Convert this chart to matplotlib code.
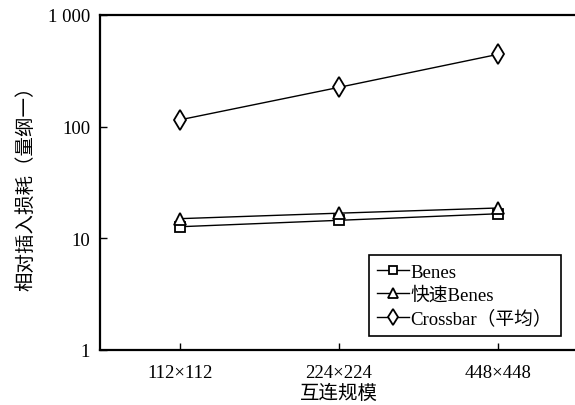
import matplotlib
matplotlib.use("Agg")
import matplotlib.pyplot as plt

categories = ["112×112", "224×224", "448×448"]
benes = [12.7, 14.5, 16.6]
fast_benes = [15.0, 16.8, 18.7]
crossbar = [115, 225, 445]
series_names = ["Benes", "快速Benes", "Crossbar（平均）"]
yticks = [1, 10, 100, 1000]
ytick_labels = ["1", "10", "100", "1 000"]

fam = ["Liberation Serif", "Noto Sans CJK SC"]
plt.rcParams["font.family"] = fam

fig = plt.figure(figsize=(5.75, 4.06), dpi=100)
ax = fig.add_axes([100/575, 1-351/406, 478/575, 335/406])

x = list(range(len(categories)))
common = dict(color="black", lw=1.0, markerfacecolor="white", markeredgecolor="black", markeredgewidth=1.3)
ax.plot(x, benes, marker="s", ms=7.5, label=series_names[0], **common)
ax.plot(x, fast_benes, marker="^", ms=8.5, label=series_names[1], **common)
ax.plot(x, crossbar, marker="d", ms=10, label=series_names[2], **common)

ax.set_yscale("log")
ax.set_ylim(1, 1000)
ax.set_xlim(-0.5, 2.5)
ax.set_yticks(yticks)
ax.set_yticklabels(ytick_labels)
ax.yaxis.set_minor_locator(matplotlib.ticker.NullLocator())
ax.set_xticks(x)
ax.set_xticklabels(categories)
ax.tick_params(direction="in", length=5, width=1, labelsize=13.5, colors="black")
ax.tick_params(axis="x", pad=10)
ax.tick_params(axis="y", pad=7)
for s in ["left", "bottom", "top"]:
    ax.spines[s].set_linewidth(1.6)
ax.spines["right"].set_visible(False)

ax.set_xlabel("互连规模", fontsize=14, labelpad=2)
ax.set_ylabel("相对插入损耗（量纲一）", fontsize=14, labelpad=9)

leg = ax.legend(loc="lower right", bbox_to_anchor=(0.964, 0.042), borderaxespad=0,
                fancybox=False, edgecolor="black", framealpha=1, fontsize=13.5,
                handlelength=1.7, handletextpad=0.1, borderpad=0.45, labelspacing=0.3,
                markerscale=0.85)
leg.get_frame().set_linewidth(1.2)

fig.savefig("out.png", dpi=100)
